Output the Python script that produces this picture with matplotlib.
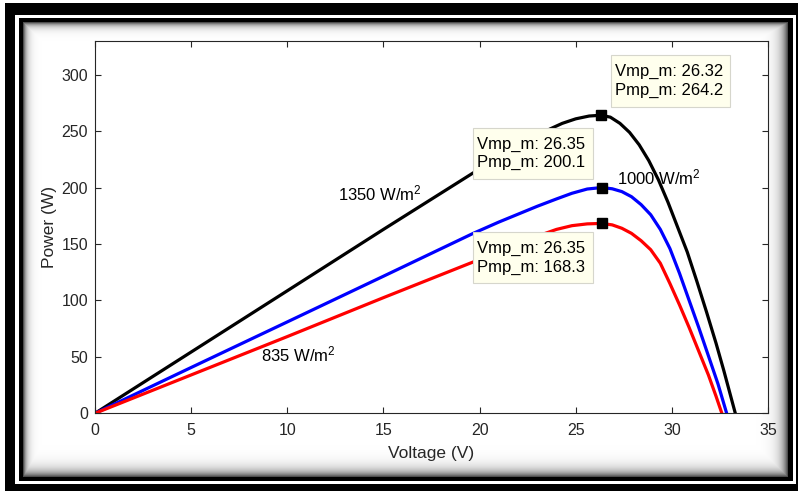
import numpy as np
import matplotlib
matplotlib.use("Agg")
import matplotlib.pyplot as plt
from matplotlib.patches import Rectangle

plt.rcParams['font.family'] = ['Liberation Sans', 'DejaVu Sans']
plt.rcParams['mathtext.default'] = 'regular'

# P-V curves of the module at three irradiance levels
v_1350 = [0, 5, 10, 15, 19.66, 21, 22, 23, 23.66, 24.3, 25, 25.7, 26.32,
          26.8, 27.3, 27.8, 28.3, 28.8, 29.3, 29.8, 30.3, 30.8, 31.3,
          31.8, 32.3, 32.7, 33.0, 33.3]
p_1350 = [0, 54.3, 108.6, 163, 213, 226, 236, 246, 252, 257, 261, 263.5, 264.2,
          262.5, 257, 249, 238, 224, 207, 187, 165, 143, 117,
          90, 62, 38, 19, 0]

v_1000 = [0, 5, 10, 15, 19.67, 21, 22, 23, 24, 24.8, 25.6, 26.35,
          26.9, 27.4, 27.9, 28.4, 28.9, 29.4, 29.9, 30.4, 30.9, 31.4,
          31.9, 32.4, 32.85]
p_1000 = [0, 40.6, 81, 121.5, 159.5, 169.5, 176.5, 183.5, 190, 195, 198.8, 200.1,
          199, 196.5, 192, 185, 176, 163, 146, 124, 100, 76,
          51, 26, 0]

v_835 = [0, 5, 10, 15, 19.5, 21, 22, 23, 24, 24.8, 25.6, 26.35,
         26.9, 27.4, 27.9, 28.4, 28.9, 29.4, 29.9, 30.4, 30.9, 31.4,
         31.9, 32.3, 32.6]
p_835 = [0, 34, 68, 102.5, 133, 143, 150, 157, 163, 166.3, 167.9, 168.3,
         167, 164, 159.5, 153, 145, 133, 115, 96, 76, 55,
         34, 15, 0]

# maximum power points
vmp = [26.32, 26.35, 26.35]
pmp = [264.2, 200.1, 168.3]

W, H = 798, 491
fig = plt.figure(figsize=(W / 100, H / 100), dpi=100)


def px_rect(x0, y0, x1, y1, **kw):
    return Rectangle((x0 / W, 1 - y1 / H), (x1 - x0) / W, (y1 - y0) / H,
                     transform=fig.transFigure, **kw)


# double black frame around the figure
fig.add_artist(px_rect(5, 3, 810, 500, facecolor='black', edgecolor='none', zorder=-5))
fig.add_artist(px_rect(15, 15, 796, 483.5, facecolor='white', edgecolor='none', zorder=-5))
fig.add_artist(px_rect(19, 17.5, 793, 480.5, facecolor='black', edgecolor='none', zorder=-5))
fig.add_artist(px_rect(23, 22, 788, 476.5, facecolor='white', edgecolor='none', zorder=-5))

# soft inner shadow along the frame
x0, y0, x1, y1 = 23, 22, 788, 477
yy, xx = np.mgrid[0:y1 - y0, 0:x1 - x0].astype(float)
dl, dt = xx, yy
dr, db = (x1 - x0 - 1) - xx, (y1 - y0 - 1) - yy
shade = np.maximum.reduce([np.exp(-dl / 3.5), np.exp(-dt / 3.5),
                           np.exp(-dr / 6.0), np.exp(-db / 6.0)]) * 0.7
rgba = np.zeros((y1 - y0, x1 - x0, 4))
rgba[..., 3] = shade
fig.figimage(rgba, xo=x0, yo=H - y1, origin='upper', zorder=-4)

ax = fig.add_axes([95 / W, (H - 413.3) / H, (768 - 95) / W, (413.3 - 41) / H])

ax.plot(v_1350, p_1350, color='k', lw=2.3)
ax.plot(v_1000, p_1000, color='b', lw=2.3)
ax.plot(v_835, p_835, color='r', lw=2.3)
ax.plot(vmp, pmp, ls='none', marker='s', ms=7.5, color='k', zorder=5)

# data tips: box (left, right, bottom, top) and text anchor
tip_boxes = [(26.81, 33.02, 271.7, 317.7), (19.66, 25.90, 208.1, 253.1),
             (19.66, 25.90, 115.2, 160.4)]
for (bl, br, bb, bt), v, p in zip(tip_boxes, vmp, pmp):
    ax.add_patch(Rectangle((bl, bb), br - bl, bt - bb, facecolor=(1, 1, 0.93),
                           edgecolor=(0.84, 0.84, 0.8), lw=0.8, zorder=6))
    ax.text(bl + 0.23, (bb + bt) / 2, f"Vmp_m: {v:.2f}\nPmp_m: {p:.1f}",
            fontsize=12, ha='left', va='center', linespacing=1.26, zorder=7)

ax.text(12.64, 189, "1350 W/m$^2$", fontsize=12, va='baseline')
ax.text(27.16, 202.5, "1000 W/m$^2$", fontsize=12, va='baseline')
ax.text(8.63, 45.6, "835 W/m$^2$", fontsize=12, va='baseline')

ax.set_xlim(0, 35)
ax.set_ylim(0, 330)
ax.set_xticks(np.arange(0, 36, 5))
ax.set_yticks(np.arange(0, 301, 50))
ax.tick_params(direction='in', length=4, width=0.8, top=True, right=True,
               labelsize=11.5, colors=(0.15, 0.15, 0.15))
ax.tick_params(axis='x', pad=7)
ax.tick_params(axis='y', pad=5)
for s in ax.spines.values():
    s.set_color((0.15, 0.15, 0.15))
    s.set_linewidth(0.8)
ax.set_xlabel("Voltage (V)", fontsize=12.5, color=(0.15, 0.15, 0.15), labelpad=6)
ax.set_ylabel("Power (W)", fontsize=12.5, color=(0.15, 0.15, 0.15), labelpad=3)

fig.savefig("out.png", dpi=100)
